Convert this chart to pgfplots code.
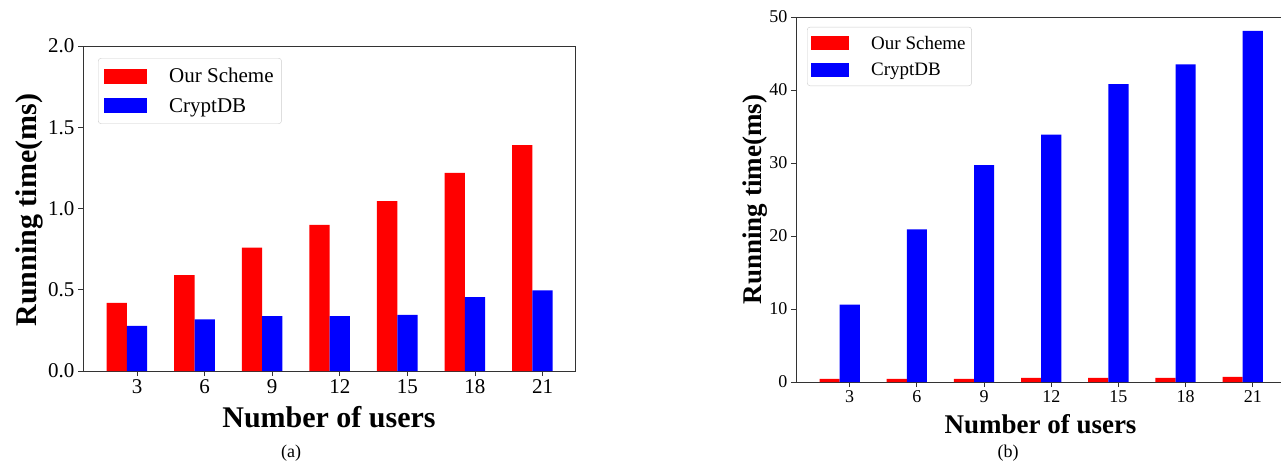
\documentclass[border=0pt]{standalone}
\usepackage{fontspec}
\setmainfont{Liberation Serif}
\usepackage{pgfplots}
\pgfplotsset{compat=1.18}

\pgfplotsset{
  barchart/.style={
    scale only axis,
    xmin=-0.8, xmax=6.48,
    ymin=0,
    xtick={0,1,2,3,4,5,6},
    xticklabels={3,6,9,12,15,18,21},
    xtick pos=left, ytick pos=left,
    tick align=outside,
    major tick length=5pt,
    axis line style={black!80, line width=0.9pt},
    every tick/.style={black!80, line width=0.9pt},
    /pgf/number format/assume math mode=true,
    legend cell align=left,
  },
}

\begin{document}
\begin{tikzpicture}
% ---------------- (a) ----------------
\begin{axis}[barchart,
  at={(83pt,93pt)}, anchor=south west,
  width=492pt, height=325pt,
  ymax=2.0,
  ytick={0,0.5,1.0,1.5,2.0},
  yticklabel style={/pgf/number format/fixed, /pgf/number format/fixed zerofill, /pgf/number format/precision=1},
  ticklabel style={font=\fontsize{21}{24}\selectfont},
  xlabel={Number of users},
  ylabel={Running time(ms)},
  xlabel style={font=\fontsize{30}{34}\selectfont\bfseries, at={(axis description cs:0.5,-0.142)}, anchor=center},
  ylabel style={font=\fontsize{30}{34}\selectfont\bfseries, at={(axis description cs:-0.108,0.495)}, anchor=center},
  legend image code/.code={\fill[#1, sharp corners] (0pt,-7.5pt) rectangle (43pt,7.5pt); \path (63pt,0pt);},
  legend style={at={(axis description cs:0.0305,0.963)}, anchor=north west,
    draw=black!20, rounded corners=3pt, fill=white,
    font=\fontsize{21}{25}\selectfont, inner xsep=6pt, inner ysep=8pt,
    row sep=10pt},
]
\addplot[ybar, bar width=0.3, bar shift=-0.3, fill=red, draw=none]
  coordinates {(0,0.42) (1,0.59) (2,0.76) (3,0.90) (4,1.045) (5,1.22) (6,1.39)};
\addlegendentry{Our Scheme}
\addplot[ybar, bar width=0.3, bar shift=0, fill=blue, draw=none]
  coordinates {(0,0.277) (1,0.318) (2,0.338) (3,0.338) (4,0.346) (5,0.455) (6,0.496)};
\addlegendentry{CryptDB}
\end{axis}
\node[font=\fontsize{18}{21}\selectfont] at (291pt,11pt) {(a)};

% ---------------- (b) ----------------
\begin{axis}[barchart,
  at={(796pt,82pt)}, anchor=south west,
  width=489pt, height=365pt,
  ymax=50,
  ytick={0,10,20,30,40,50},
  ticklabel style={font=\fontsize{18}{21}\selectfont},
  xlabel={Number of users},
  ylabel={Running time(ms)},
  xlabel style={font=\fontsize{27}{31}\selectfont\bfseries, at={(axis description cs:0.5,-0.115)}, anchor=center},
  ylabel style={font=\fontsize{27}{31}\selectfont\bfseries, at={(axis description cs:-0.084,0.5)}, anchor=center},
  legend image code/.code={\fill[#1, sharp corners] (0pt,-7pt) rectangle (38pt,7pt); \path (58pt,0pt);},
  legend style={at={(axis description cs:0.0225,0.973)}, anchor=north west,
    draw=black!20, rounded corners=3pt, fill=white,
    font=\fontsize{19}{23}\selectfont, inner xsep=4pt, inner ysep=7pt,
    row sep=8pt},
]
\addplot[ybar, bar width=0.3, bar shift=-0.3, fill=red, draw=none]
  coordinates {(0,0.42) (1,0.42) (2,0.42) (3,0.55) (4,0.55) (5,0.55) (6,0.7)};
\addlegendentry{Our Scheme}
\addplot[ybar, bar width=0.3, bar shift=0, fill=blue, draw=none]
  coordinates {(0,10.6) (1,20.9) (2,29.7) (3,33.9) (4,40.8) (5,43.5) (6,48.1)};
\addlegendentry{CryptDB}
\end{axis}
\node[font=\fontsize{18}{21}\selectfont] at (1008pt,11pt) {(b)};

\pgfresetboundingbox
\useasboundingbox (0pt,0pt) rectangle (1281pt,464pt);
\end{tikzpicture}
\end{document}
